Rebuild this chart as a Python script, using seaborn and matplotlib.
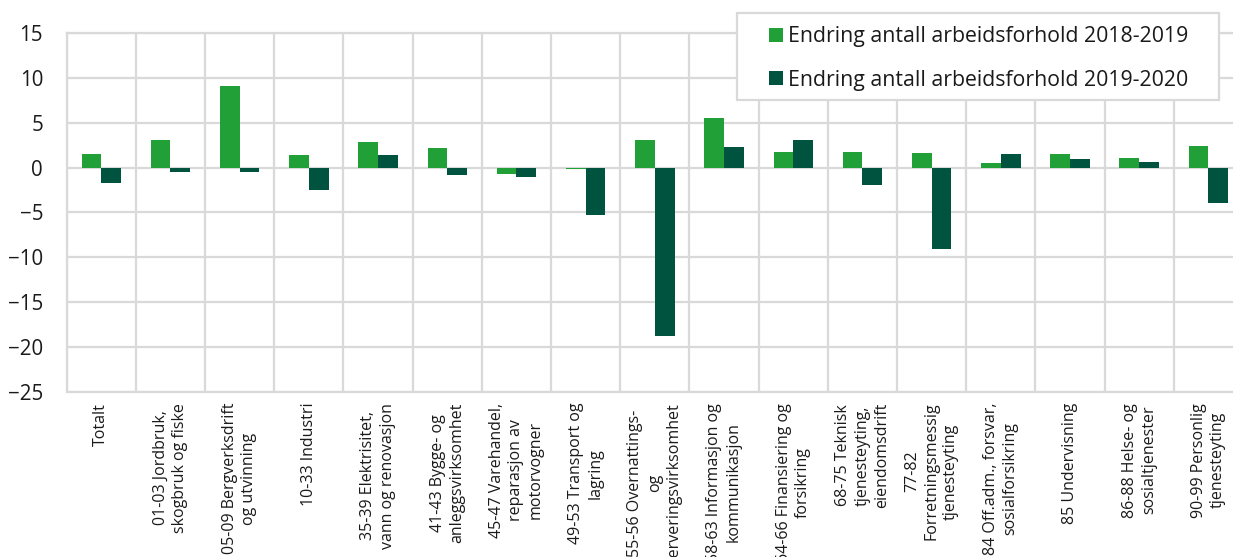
import matplotlib
matplotlib.use("Agg")
import matplotlib.pyplot as plt
from matplotlib.patches import Rectangle
import numpy as np
import pandas as pd
import seaborn as sns

# Næringer (x-akse)
naeringer = [
    "Totalt",
    "01-03 Jordbruk,\nskogbruk og fiske",
    "05-09 Bergverksdrift\nog utvinning",
    "10-33 Industri",
    "35-39 Elektrisitet,\nvann og renovasjon",
    "41-43 Bygge- og\nanleggsvirksomhet",
    "45-47 Varehandel,\nreparasjon av\nmotorvogner",
    "49-53 Transport og\nlagring",
    "55-56 Overnattings-\nog\nserveringsvirksomhet",
    "58-63 Informasjon og\nkommunikasjon",
    "64-66 Finansiering og\nforsikring",
    "68-75 Teknisk\ntjenesteyting,\neiendomsdrift",
    "77-82\nForretningsmessig\ntjenesteyting",
    "84 Off.adm., forsvar,\nsosialforsikring",
    "85 Undervisning",
    "86-88 Helse- og\nsosialtjenester",
    "90-99 Personlig\ntjenesteyting",
]

endring_2018_2019 = [1.5, 3.05, 9.1, 1.4, 2.9, 2.2, -0.7, -0.1, 3.1, 5.5, 1.75,
                     1.75, 1.6, 0.55, 1.5, 1.05, 2.4]
endring_2019_2020 = [-1.7, -0.45, -0.45, -2.5, 1.4, -0.8, -1.0, -5.3, -18.8, 2.3, 3.05,
                     -1.9, -9.1, 1.5, 0.95, 0.6, -3.9]

serier = ["Endring antall arbeidsforhold 2018-2019",
          "Endring antall arbeidsforhold 2019-2020"]
farger = ["#21A038", "#00543F"]

df = pd.DataFrame({
    "naering": naeringer * 2,
    "verdi": endring_2018_2019 + endring_2019_2020,
    "serie": [serier[0]] * len(naeringer) + [serier[1]] * len(naeringer),
})

sns.set_style("white")
plt.rcParams["font.family"] = ["Open Sans", "DejaVu Sans"]

W, H = 1233, 557
fig = plt.figure(figsize=(W / 100, H / 100), dpi=100)
ax = fig.add_axes([66.7 / W, 1 - 391.7 / H, (1243 - 66.7) / W, (391.7 - 33.3) / H])

sns.barplot(data=df, x="naering", y="verdi", hue="serie", palette=farger,
            width=0.57, ax=ax, saturation=1, edgecolor="none", zorder=3)

grid = "#D9D9D9"
ax.set_ylim(-25, 15)
ax.set_xlim(-0.5, len(naeringer) - 0.5)
ax.set_yticks(range(-25, 16, 5))
ax.set_xticks(np.arange(-0.5, len(naeringer)), minor=True)
ax.grid(axis="y", which="major", color=grid, linewidth=1.6, zorder=0)
ax.grid(axis="x", which="minor", color=grid, linewidth=1.6, zorder=0)
ax.grid(axis="x", which="major", visible=False)
ax.set_axisbelow(True)
for s in ax.spines.values():
    s.set_color(grid)
    s.set_linewidth(1.6)

ax.tick_params(axis="both", which="both", length=0)
ax.tick_params(axis="y", pad=17, labelsize=14.8, labelcolor="#1a1a1a")
ax.tick_params(axis="x", pad=8)
ax.set_xticks(range(len(naeringer)))
ax.set_xticklabels(naeringer, rotation=90, ha="center", va="top",
                   multialignment="center", fontsize=11.5, color="#1a1a1a",
                   linespacing=1.28)
ax.set_xlabel("")
ax.set_ylabel("")

# legend: egen ramme + legend uten ramme oppå
handles, labels = ax.get_legend_handles_labels()
ax.get_legend().remove()
fig.patches.append(Rectangle((737 / W, 1 - 100 / H), (1219 - 737) / W, (100 - 13.3) / H,
                             transform=fig.transFigure, facecolor="white",
                             edgecolor=grid, linewidth=1.6, zorder=2))
leg = fig.legend(handles, labels, loc="upper left",
                 bbox_to_anchor=(769 / W, 1 - 26.3 / H), bbox_transform=fig.transFigure,
                 borderaxespad=0, borderpad=0, frameon=False, fontsize=15.35,
                 handlelength=0.65, handleheight=0.65, handletextpad=0.25,
                 labelspacing=1.05)
leg.set_zorder(5)
for t in leg.get_texts():
    t.set_color("#1a1a1a")

fig.savefig("out.png", dpi=100)
